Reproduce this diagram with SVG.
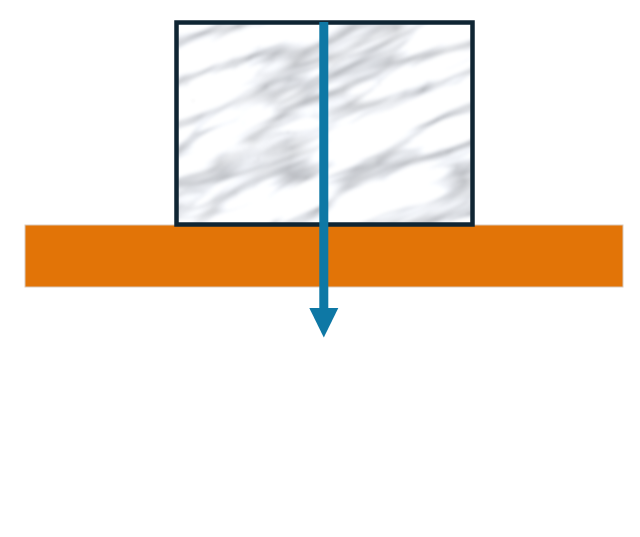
<svg xmlns="http://www.w3.org/2000/svg" width="640" height="537" viewBox="0 0 640 537">
  <style>
    .plank { fill: #E27407; stroke: #D9C9BC; stroke-width: 1; }
    .frame { fill: none; stroke: #0F2533; stroke-width: 4.5; }
    .force { fill: #0E78A5; }
  </style>
  <defs>
    <filter id="marble" filterUnits="userSpaceOnUse" x="-200" y="-200" width="800" height="800" color-interpolation-filters="sRGB">
      <feTurbulence type="turbulence" baseFrequency="0.007 0.03" numOctaves="3" seed="11" result="t"/>
      <feTurbulence type="fractalNoise" baseFrequency="0.02 0.04" numOctaves="3" seed="4" result="f"/>
      <feColorMatrix in="t" type="matrix" values="0.9 0 0 0 0.70  0.9 0 0 0 0.71  0.9 0 0 0 0.73  0 0 0 0 1" result="veins"/>
      <feColorMatrix in="f" type="matrix" values="0 0 0 0 1  0 0 0 0 1  0 0 0 0 1  -0.9 0 0 0 0.55" result="cloud"/>
      <feComposite in="cloud" in2="veins" operator="over" result="m"/>
      <feGaussianBlur in="m" stdDeviation="1.4"/>
    </filter>
    <clipPath id="blockClip">
      <rect x="178" y="24" width="293" height="199"/>
    </clipPath>
  </defs>

  <rect width="640" height="537" fill="#FFFFFF"/>

  <g id="plank">
    <rect class="plank" x="25" y="225" width="598" height="62"/>
  </g>

  <g id="block">
    <g clip-path="url(#blockClip)">
      <g transform="rotate(-24 324 123)">
        <rect x="100" y="-60" width="450" height="370" fill="#ECEEF0" filter="url(#marble)"/>
      </g>
    </g>
    <rect class="frame" x="176.5" y="22.5" width="296" height="202"/>
  </g>

  <g id="connectors">
    <g id="arrow">
      <rect class="force" x="319.3" y="22" width="9" height="288"/>
      <polygon class="force" points="309.3,308 338.3,308 323.8,337.5"/>
    </g>
  </g>
</svg>
